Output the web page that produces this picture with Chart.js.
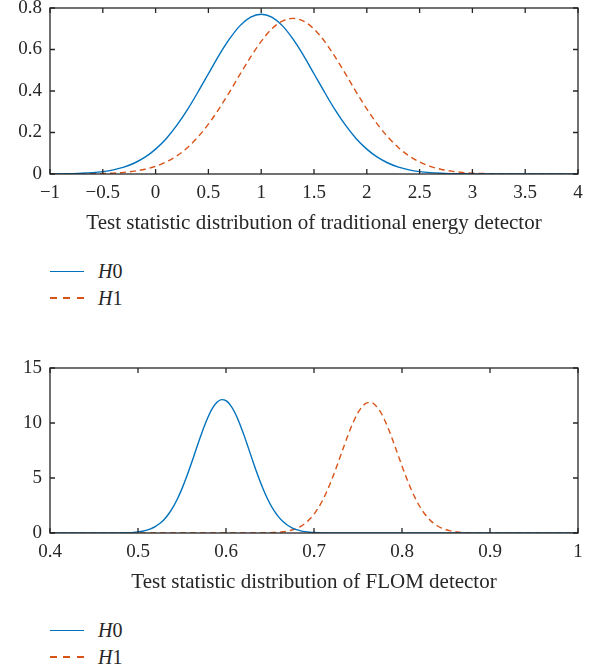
<!DOCTYPE html>
<html lang="en">
<head>
<meta charset="UTF-8">
<title>Test statistic distributions</title>
<script src="https://cdn.jsdelivr.net/npm/chart.js"></script>
<style>
  body { margin: 0; background: #fff; width: 598px; height: 669px; position: relative; overflow: hidden;
         font-family: "Liberation Serif", "DejaVu Serif", serif; color: #262626; }
  canvas { position: absolute; left: 0; }
  .legend { position: absolute; left: 50px; font-size: 20px; }
  .legend div { display: flex; align-items: center; height: 26.7px; }
  .legend .swatch { display: inline-block; width: 34px; height: 1.5px; margin-right: 14px; }
</style>
</head>
<body>
<canvas id="topChart" width="598" height="240" style="top:0"></canvas>
<div class="legend" id="topLegend" style="top:258px"></div>
<canvas id="botChart" width="598" height="240" style="top:359px"></canvas>
<div class="legend" id="botLegend" style="top:617px"></div>

<script>
// traditional energy detector (top)
const topX = [-1, -0.9, -0.8, -0.7, -0.6, -0.5, -0.4, -0.3, -0.2, -0.1,
  0, 0.1, 0.2, 0.3, 0.4, 0.5, 0.6, 0.7, 0.8, 0.9,
  1, 1.1, 1.2, 1.3, 1.4, 1.5, 1.6, 1.7, 1.8, 1.9,
  2, 2.1, 2.2, 2.3, 2.4, 2.5, 2.6, 2.7, 2.8, 2.9,
  3, 3.1, 3.2, 3.3, 3.4, 3.5, 3.6, 3.7, 3.8, 3.9, 4];
const topH0 = [0.0004, 0.0009, 0.0019, 0.0035, 0.0065, 0.0116, 0.020, 0.033, 0.053, 0.081,
  0.120, 0.170, 0.234, 0.309, 0.394, 0.483, 0.572, 0.651, 0.715, 0.756,
  0.770, 0.756, 0.715, 0.651, 0.572, 0.483, 0.394, 0.309, 0.234, 0.170,
  0.120, 0.081, 0.053, 0.033, 0.020, 0.0116, 0.0065, 0.0035, 0.0019, 0.0009,
  0.0004, 0.0002, 0.0001, 0, 0, 0, 0, 0, 0, 0, 0];
const topH1 = [0.0001, 0.0001, 0.0003, 0.0006, 0.0012, 0.0023, 0.0044, 0.0079, 0.0137, 0.023,
  0.037, 0.058, 0.087, 0.127, 0.178, 0.240, 0.314, 0.395, 0.481, 0.564,
  0.639, 0.699, 0.737, 0.750, 0.737, 0.699, 0.639, 0.564, 0.481, 0.395,
  0.314, 0.240, 0.178, 0.127, 0.087, 0.058, 0.037, 0.023, 0.0137, 0.0079,
  0.0044, 0.0023, 0.0012, 0.0006, 0.0003, 0.0001, 0.0001, 0, 0, 0, 0];

// FLOM detector (bottom)
const botX = [0.4,
  0.45, 0.455, 0.46, 0.465, 0.47, 0.475, 0.48, 0.485, 0.49, 0.495,
  0.5, 0.505, 0.51, 0.515, 0.52, 0.525, 0.53, 0.535, 0.54, 0.545,
  0.55, 0.555, 0.56, 0.565, 0.57, 0.575, 0.58, 0.585, 0.59, 0.595,
  0.6, 0.605, 0.61, 0.615, 0.62, 0.625, 0.63, 0.635, 0.64, 0.645,
  0.65, 0.655, 0.66, 0.665, 0.67, 0.675, 0.68, 0.685, 0.69, 0.695,
  0.7, 0.705, 0.71, 0.715, 0.72, 0.725, 0.73, 0.735, 0.74, 0.745,
  0.75, 0.755, 0.76, 0.765, 0.77, 0.775, 0.78, 0.785, 0.79, 0.795,
  0.8, 0.805, 0.81, 0.815, 0.82, 0.825, 0.83, 0.835, 0.84, 0.845,
  0.85, 0.855, 0.86, 0.865, 0.87, 0.875, 0.88, 0.885, 0.89, 0.895,
  0.9, 0.95, 1];
const botH0 = [0,
  0.0002, 0.0004, 0.0008, 0.0016, 0.003, 0.006, 0.011, 0.020, 0.035, 0.060,
  0.100, 0.163, 0.259, 0.399, 0.601, 0.881, 1.258, 1.750, 2.373, 3.134,
  4.035, 5.058, 6.180, 7.357, 8.534, 9.643, 10.618, 11.390, 11.906, 12.124,
  12.029, 11.630, 10.953, 10.053, 8.988, 7.831, 6.647, 5.497, 4.430, 3.479,
  2.661, 1.983, 1.440, 1.019, 0.702, 0.472, 0.308, 0.197, 0.122, 0.074,
  0.044, 0.025, 0.014, 0.008, 0.004, 0.002, 0.001, 0, 0, 0,
  0, 0, 0, 0, 0, 0, 0, 0, 0, 0,
  0, 0, 0, 0, 0, 0, 0, 0, 0, 0,
  0, 0, 0, 0, 0, 0, 0, 0, 0, 0,
  0, 0, 0];
const botH1 = [0,
  0, 0, 0, 0, 0, 0, 0, 0, 0, 0,
  0, 0, 0, 0, 0, 0, 0, 0, 0, 0,
  0, 0, 0, 0, 0, 0, 0, 0, 0, 0,
  0, 0, 0, 0, 0.0005, 0.001, 0.002, 0.004, 0.007, 0.013,
  0.023, 0.040, 0.067, 0.109, 0.174, 0.271, 0.411, 0.609, 0.881, 1.243,
  1.711, 2.298, 3.014, 3.857, 4.817, 5.870, 6.981, 8.101, 9.176, 10.142,
  10.939, 11.514, 11.828, 11.857, 11.600, 11.073, 10.317, 9.379, 8.322, 7.206,
  6.088, 5.020, 4.040, 3.173, 2.432, 1.819, 1.327, 0.945, 0.657, 0.446,
  0.295, 0.191, 0.120, 0.074, 0.044, 0.026, 0.015, 0.008, 0.004, 0.002,
  0.001, 0, 0];

const seriesLabels = ['H0', 'H1'];
const blue = '#0072BD';
const red = '#D95319';
const ink = '#262626';
const serif = '"Liberation Serif", "DejaVu Serif", serif';

// box round the plot with inward tick marks on all four sides
const framePlugin = {
  id: 'frame',
  afterDraw(chart) {
    const { ctx, chartArea: a, scales: { x, y } } = chart;
    ctx.save();
    ctx.strokeStyle = ink;
    ctx.lineWidth = 1.3;
    ctx.strokeRect(a.left, a.top, a.right - a.left, a.bottom - a.top);
    ctx.beginPath();
    x.ticks.forEach(t => {
      const px = x.getPixelForValue(t.value);
      ctx.moveTo(px, a.bottom); ctx.lineTo(px, a.bottom - 5);
      ctx.moveTo(px, a.top); ctx.lineTo(px, a.top + 5);
    });
    y.ticks.forEach(t => {
      const py = y.getPixelForValue(t.value);
      ctx.moveTo(a.left, py); ctx.lineTo(a.left + 5, py);
      ctx.moveTo(a.right, py); ctx.lineTo(a.right - 5, py);
    });
    ctx.stroke();
    ctx.restore();
  }
};

function fmt(v) {
  return String(+v.toFixed(2)).replace('-', '\u2212');
}

function makeChart(id, xs, h0, h1, xr, yr, title, padTop) {
  const pts = ys => xs.map((x, i) => ({ x: x, y: ys[i] }));
  return new Chart(document.getElementById(id), {
    type: 'line',
    data: {
      datasets: [
        { label: seriesLabels[0], data: pts(h0), borderColor: blue, borderWidth: 1.4 },
        { label: seriesLabels[1], data: pts(h1), borderColor: red, borderWidth: 1.4, borderDash: [6, 4] }
      ]
    },
    options: {
      responsive: false,
      animation: false,
      layout: { padding: { top: padTop, right: 20, left: 0, bottom: 0 } },
      elements: { point: { radius: 0 }, line: { cubicInterpolationMode: 'monotone' } },
      plugins: { legend: { display: false }, tooltip: { enabled: false } },
      scales: {
        x: {
          type: 'linear', min: xr[0], max: xr[1],
          grid: { display: false, drawTicks: false },
          border: { display: false },
          ticks: { stepSize: xr[2], padding: 8, color: ink, font: { family: serif, size: 19 }, callback: fmt },
          title: { display: true, text: title, color: ink, font: { family: serif, size: 21 }, padding: { top: 0, bottom: 4 } },
          afterFit(s) { s.height = 66; s.paddingLeft = 0; s.paddingRight = 0; }
        },
        y: {
          min: yr[0], max: yr[1],
          grid: { display: false, drawTicks: false },
          border: { display: false },
          ticks: { stepSize: yr[2], padding: 8, color: ink, font: { family: serif, size: 19 }, callback: fmt },
          afterFit(s) { s.width = 50; s.paddingTop = 0; s.paddingBottom = 0; }
        }
      }
    },
    plugins: [framePlugin]
  });
}

function buildLegend(id, chart) {
  const box = document.getElementById(id);
  chart.data.datasets.forEach(ds => {
    const row = document.createElement('div');
    const sw = document.createElement('span');
    sw.className = 'swatch';
    sw.style.background = ds.borderDash
      ? 'repeating-linear-gradient(to right, ' + ds.borderColor + ' 0 7px, transparent 7px 13.5px)'
      : ds.borderColor;
    const lab = document.createElement('span');
    const it = document.createElement('i');
    it.textContent = ds.label[0];
    lab.appendChild(it);
    lab.appendChild(document.createTextNode(ds.label.slice(1)));
    row.appendChild(sw);
    row.appendChild(lab);
    box.appendChild(row);
  });
}

const topChart = makeChart('topChart', topX, topH0, topH1, [-1, 4, 0.5], [0, 0.8, 0.2],
  'Test statistic distribution of traditional energy detector', 8);
const botChart = makeChart('botChart', botX, botH0, botH1, [0.4, 1, 0.1], [0, 15, 5],
  'Test statistic distribution of FLOM detector', 9);
buildLegend('topLegend', topChart);
buildLegend('botLegend', botChart);
</script>
</body>
</html>
